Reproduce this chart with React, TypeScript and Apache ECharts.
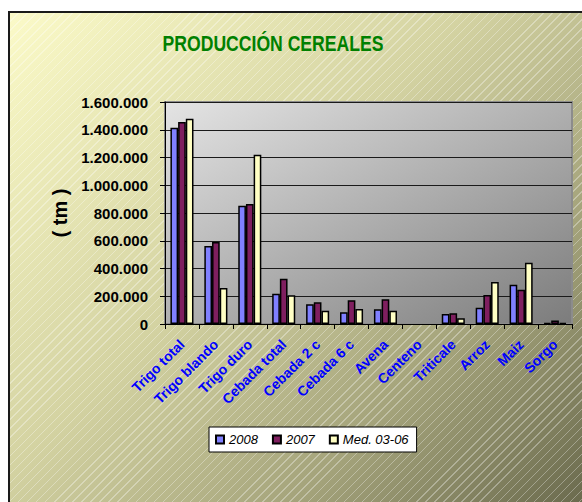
import React, { useEffect, useRef } from "react";
import * as echarts from "echarts";

const categories = [
  "Trigo total",
  "Trigo blando",
  "Trigo duro",
  "Cebada total",
  "Cebada 2 c",
  "Cebada 6 c",
  "Avena",
  "Centeno",
  "Triticale",
  "Arroz",
  "Maiz",
  "Sorgo",
];

const seriesNames = ["2008", "2007", "Med. 03-06"];

const values2008 = [1415000, 562000, 853000, 218000, 142000, 84000, 106000, null, 72000, 117000, 283000, 8000];
const values2007 = [1455000, 591000, 865000, 326000, 156000, 171000, 178000, null, 77000, 209000, 247000, 25000];
const valuesMed = [1480000, 259000, 1220000, 207000, 96000, 108000, 96000, null, 41000, 303000, 442000, 8000];

const yMin = 0;
const yMax = 1600000;
const yInterval = 200000;

const seriesColors = ["#8080ff", "#7f1f5f", "#ffffc4"];

const titleText = "PRODUCCIÓN CEREALES";
const yAxisName = "( tm )";

const FONT = '"Liberation Sans", Arial, sans-serif';

function fmtThousands(v: number): string {
  return String(Math.round(v)).replace(/\B(?=(\d{3})+(?!\d))/g, ".");
}

export default function App() {
  const ref = useRef<HTMLDivElement>(null);

  useEffect(() => {
    if (!ref.current) return;
    const chart = echarts.init(ref.current, null, { renderer: "svg" });
    const dataSets = [values2008, values2007, valuesMed];
    chart.setOption({
      animation: false,
      backgroundColor: "transparent",
      textStyle: { fontFamily: FONT },
      graphic: [
        {
          type: "text",
          x: 273,
          y: 43,
          scaleX: 0.8,
          style: {
            text: titleText,
            fill: "#008000",
            fontSize: 22,
            fontWeight: "bold",
            fontFamily: FONT,
            align: "center",
            verticalAlign: "middle",
          },
        },
      ],
      legend: {
        data: seriesNames,
        left: 209,
        top: 427,
        orient: "horizontal",
        backgroundColor: "#ffffff",
        borderColor: "#000000",
        borderWidth: 1,
        borderRadius: 0,
        padding: [6, 8, 6, 6],
        itemWidth: 8,
        itemHeight: 8,
        itemGap: 14,
        icon: "rect",
        textStyle: {
          fontStyle: "italic",
          fontSize: 13,
          color: "#000000",
          fontFamily: FONT,
        },
      },
      grid: {
        left: 165,
        right: 10,
        top: 102,
        bottom: 178,
        containLabel: false,
        show: true,
        backgroundColor: new echarts.graphic.LinearGradient(0, 0, 1, 1, [
          { offset: 0, color: "#e4e4e4" },
          { offset: 1, color: "#7c7c7c" },
        ]),
        borderColor: "#8c8c8c",
        borderWidth: 2,
      },
      xAxis: {
        type: "category",
        data: categories,
        boundaryGap: true,
        axisLine: { show: true, lineStyle: { color: "#000000", width: 1 } },
        axisTick: { show: true, alignWithLabel: false, length: 5, lineStyle: { color: "#000000" } },
        axisLabel: {
          interval: 0,
          rotate: 45,
          margin: 18,
          color: "#0000ff",
          fontWeight: "bold",
          fontSize: 14,
          fontFamily: FONT,
        },
        splitLine: { show: false },
      },
      yAxis: {
        type: "value",
        min: yMin,
        max: yMax,
        interval: yInterval,
        name: yAxisName,
        nameLocation: "middle",
        nameRotate: 90,
        nameGap: 90,
        nameTextStyle: { fontSize: 20, fontWeight: "bold", color: "#000000", fontFamily: FONT },
        axisLine: { show: true, lineStyle: { color: "#000000", width: 1 } },
        axisTick: { show: true, inside: false, length: 5, lineStyle: { color: "#000000" } },
        axisLabel: {
          formatter: (v: number) => fmtThousands(v),
          fontWeight: "bold",
          fontSize: 15,
          color: "#000000",
          margin: 17,
          fontFamily: FONT,
        },
        splitLine: { show: true, lineStyle: { color: "#1a1a1a", width: 1 } },
      },
      series: seriesNames.map((name, i) => ({
        name,
        type: "bar",
        data: dataSets[i],
        barGap: "0%",
        barCategoryGap: "32%",
        itemStyle: {
          color: seriesColors[i],
          borderColor: "#000000",
          borderWidth: 1.5,
        },
      })),
    });
    return () => chart.dispose();
  }, []);

  const bg =
    "repeating-linear-gradient(135deg, rgba(255,255,255,0) 0px, rgba(255,255,255,0) 5.4px, rgba(255,255,255,0.32) 5.4px, rgba(255,255,255,0.32) 6.4px), " +
    "linear-gradient(135deg, #fbfac8 0%, #d4d3a2 42%, #a3a27a 72%, #66664a 100%)";

  return (
    <div
      style={{
        position: "fixed",
        left: 0,
        top: 0,
        width: 582,
        height: 502,
        background: "#ffffff",
        overflow: "hidden",
      }}
    >
      <div
        style={{
          position: "absolute",
          left: 8,
          top: 11,
          width: 585,
          height: 500,
          borderLeft: "2px solid #1a1a1a",
          borderTop: "2px solid #1a1a1a",
          background: bg,
        }}
      />
      <div ref={ref} style={{ position: "absolute", left: 0, top: 0, width: 582, height: 502 }} />
    </div>
  );
}
